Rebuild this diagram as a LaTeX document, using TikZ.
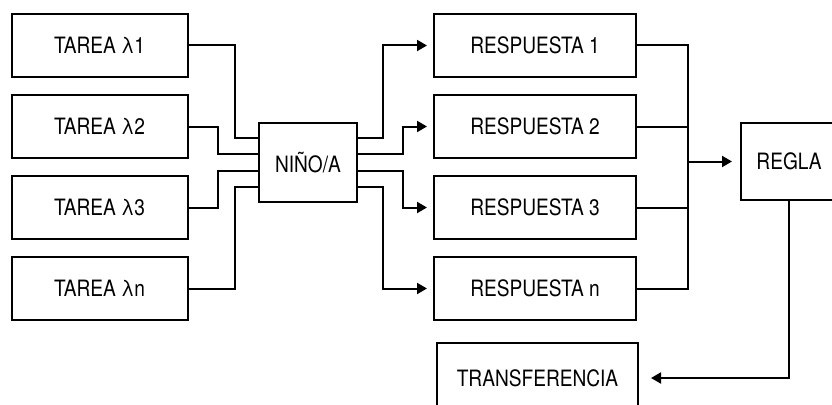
\documentclass[tikz,border=0pt]{standalone}
\usepackage{fontspec}
\setmainfont[FakeStretch=0.85]{TeX Gyre Heros}
\usepackage{tikz}
\usetikzlibrary{arrows.meta,positioning,calc}
\tikzset{
  chbox/.style={draw=black, line width=2pt, fill=white, align=center, inner sep=0pt, minimum width=176pt, minimum height=63pt, font=\fontsize{22.5}{25}\selectfont},
  chresp/.style={chbox, minimum width=202pt},
  chline/.style={line width=2pt},
  charrow/.style={-{Triangle[length=10pt,width=11pt]}, line width=2pt, shorten >=6pt}
}
\begin{document}
\begin{tikzpicture}[x=1pt, y=-1pt]
  \useasboundingbox (0,0) rectangle (832,404);
  \node[chbox] (t1) at (99.5,45.5) {TAREA λ1};
  \node[chbox, below=16pt of t1] (t2) {TAREA λ2};
  \node[chbox, below=16pt of t2] (t3) {TAREA λ3};
  \node[chbox, below=16pt of t3] (t4) {TAREA λn};
  \node[chbox, minimum width=98pt, minimum height=79pt] (nino) at (308,162.5) {NIÑO/A};
  \node[chresp] (r1) at (535,45.5) {RESPUESTA 1};
  \node[chresp, below=16pt of r1] (r2) {RESPUESTA 2};
  \node[chresp, below=16pt of r2] (r3) {RESPUESTA 3};
  \node[chresp, below=16pt of r3] (r4) {RESPUESTA n};
  \node[chbox, minimum width=104pt, minimum height=77pt] (regla) at (793,161.5) {\hspace*{-8pt}REGLA};
  \node[chresp, minimum width=201pt, minimum height=70pt] (trans) at (537.5,378) {TRANSFERENCIA};
  \draw[chline] (t1.east) -- ++(46pt,0) |- ($(nino.north west)!.2!(nino.south west)$);
  \draw[chline] (t2.east) -- ++(29pt,0) |- ($(nino.north west)!.4!(nino.south west)$);
  \draw[chline] (t3.east) -- ++(29pt,0) |- ($(nino.north west)!.6!(nino.south west)$);
  \draw[chline] (t4.east) -- ++(46pt,0) |- ($(nino.north west)!.8!(nino.south west)$);
  \draw[charrow] ($(nino.north east)!.2!(nino.south east)$) -- ++(25pt,0) |- (r1.west);
  \draw[charrow] ($(nino.north east)!.4!(nino.south east)$) -- ++(45pt,0) |- (r2.west);
  \draw[charrow] ($(nino.north east)!.6!(nino.south east)$) -- ++(45pt,0) |- (r3.west);
  \draw[charrow] ($(nino.north east)!.8!(nino.south east)$) -- ++(25pt,0) |- (r4.west);
  \coordinate (bus) at ($(r1.east)+(51pt,0)$);
  \draw[chline] (r1.east) -- (bus) |- (r4.east);
  \draw[chline] (r2.east) -- (r2.east -| bus);
  \draw[chline] (r3.east) -- (r3.east -| bus);
  \draw[charrow, shorten >=8pt] (bus |- regla.west) -- (regla.west);
  \draw[charrow, shorten >=12pt] ($(regla.south)+(-4pt,0)$) |- (trans.east);
\end{tikzpicture}
\end{document}
